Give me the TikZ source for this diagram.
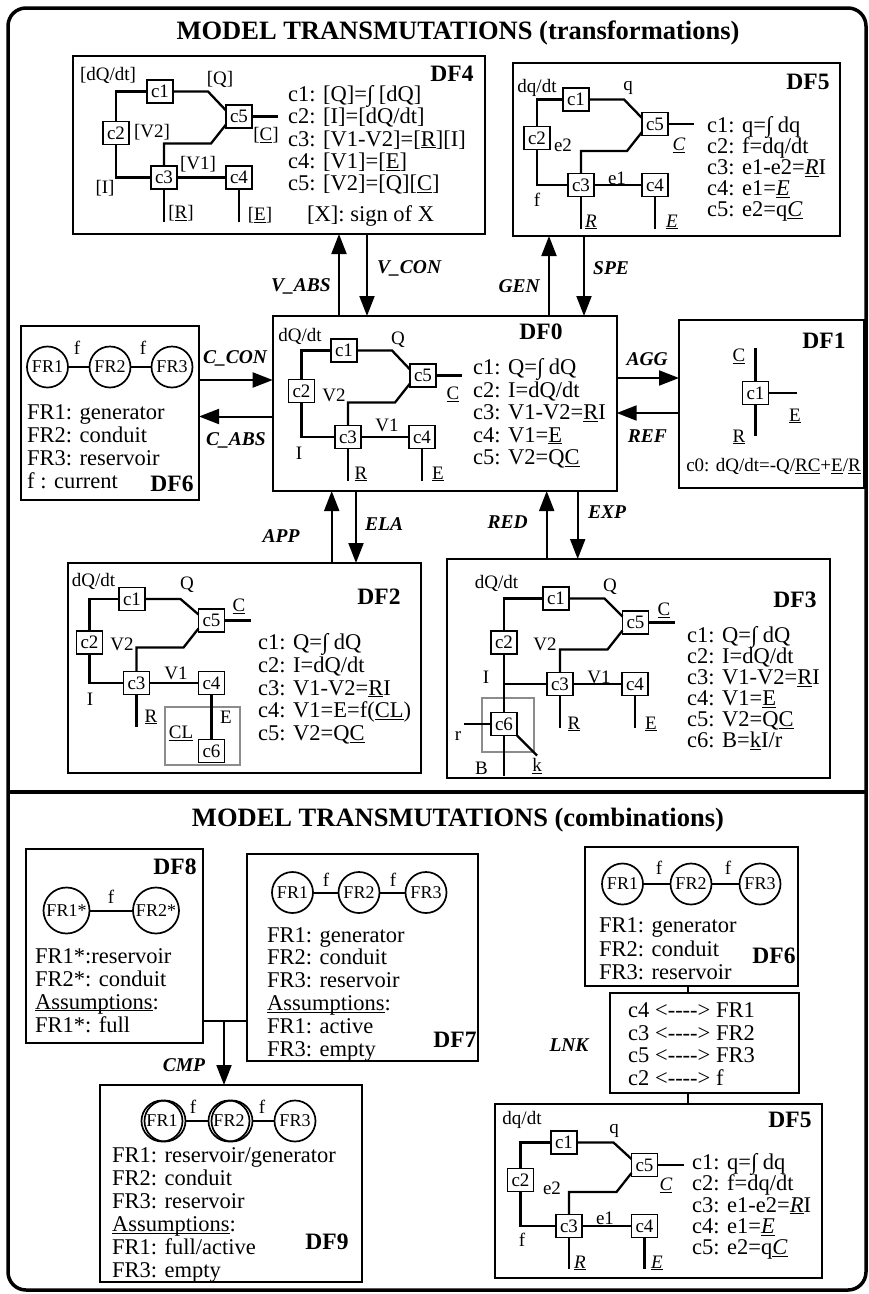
\documentclass[tikz,border=0pt]{standalone}
\usepackage{fontspec}
\setmainfont{Liberation Serif}
\usetikzlibrary{arrows.meta,calc}
\newcommand\eqf{\fontsize{22.5}{22.5}\selectfont}
\newcommand\smf{\fontsize{19}{19}\selectfont}
\newcommand\lblf{\fontsize{19}{19}\selectfont}
\newcommand\frf{\fontsize{18}{18}\selectfont}
\newcommand\dff{\bfseries\fontsize{23.5}{23.5}\selectfont}
\newcommand\arrf{\bfseries\itshape\fontsize{19.5}{19.5}\selectfont}
\newcommand\titf{\bfseries\fontsize{26.5}{26.5}\selectfont}
\newcommand\ul[1]{\underline{\smash{#1}}}
\newcounter{nn}
\newcommand\lbx[3]{\stepcounter{nn}\node[lbl] (l\arabic{nn}) at (#1,#2) {#3};}
\newcommand\eqs[4]{\foreach \t [count=\i from 0] in {#4}{\stepcounter{nn}\node[eq] (e\arabic{nn}) at (#1,{#2+\i*#3}) {\t};}}
\newcommand\dfbox[5]{\node[dfbox,minimum width={#4pt-#2pt},minimum height={#5pt-#3pt}] (#1) at ({(#2+#4)/2},{(#3+#5)/2}) {};}
\newcommand\grbox[5]{\node[grb,minimum width={#4pt-#2pt},minimum height={#5pt-#3pt}] (#1) at ({(#2+#4)/2},{(#3+#5)/2}) {};}
\newcommand\circuit[6]{%
 \node[cbox] (#1c1) at (#2) {c1};
 \node[cbox] (#1c2) at (#3) {c2};
 \node[cbox] (#1c5) at (#4) {c5};
 \node[cbox] (#1c3) at (#5) {c3};
 \node[cbox] (#1c4) at (#6) {c4};
 \coordinate (#1tx) at ($(#1c5)+(-31,0)$);
 \coordinate (#1lc) at ($(#1c5)+(-28,27)$);
 \draw[wire] (#1c2.north) |- (#1c1.west);
 \draw[wire] (#1c2.south) |- (#1c3.west);
 \draw[wire] (#1c1.east) -- (#1tx |- #1c1) -- ([yshift=6pt]#1c5.west);
 \draw[wire] (#1c3.north) |- (#1lc) -- ([yshift=-8pt]#1c5.west);
 \draw[wire] (#1c3) -- (#1c4);
 \draw[wire] (#1c5.east) -- ++(26,0);
}
\begin{document}
\begin{tikzpicture}[x=1pt,y=-1pt,
 dfbox/.style={draw,line width=1.9pt,inner sep=0pt,outer sep=0pt},
 grb/.style={draw=black!45,line width=1.7pt,inner sep=0pt,outer sep=0pt},
 cbox/.style={draw,line width=1.7pt,minimum width=26pt,minimum height=23pt,inner sep=0pt,outer sep=0pt,font=\smf},
 wire/.style={line width=2.3pt},
 link/.style={line width=2pt},
 arr/.style={line width=2pt,-{Triangle[length=20pt,width=15pt]}},
 frc/.style={draw,circle,line width=1.7pt,minimum size=41pt,inner sep=0pt,outer sep=0pt,font=\frf},
 lbl/.style={font=\lblf,inner sep=0pt},
 eq/.style={font=\eqf,inner sep=0pt,anchor=base west},
 dfl/.style={font=\dff,inner sep=0pt},
 albl/.style={font=\arrf,inner sep=0pt},
 ttl/.style={font=\titf,inner sep=0pt,anchor=base}]
\useasboundingbox (0,0) rectangle (869,1294);
\draw[line width=3.5pt,rounded corners=18pt] (8,8) rectangle (866,1290);
\draw[line width=4pt] (8,792) -- (866,792);
\node[ttl] (t1) at (458,39) {MODEL TRANSMUTATIONS (transformations)};
\node[ttl] (t2) at (458,826) {MODEL TRANSMUTATIONS (combinations)};

% ---------- DF4
\dfbox{df4}{73}{56}{485}{234}
\node[dfl] (df4l) at (452,74) {DF4};
\circuit{a}{160,91.5}{116,133}{239,116.5}{164,177.5}{239,177.5}
\draw[wire] (ac3.south) -- ++(0,33);
\draw[wire] (ac4.south) -- ++(0,33);
\lbx{108}{75}{[dQ/dt]}\lbx{220}{79}{[Q]}\lbx{266}{135}{[\underline{C}]}\lbx{152}{132}{[V2]}
\lbx{105}{188}{[I]}\lbx{198}{164}{[V1]}\lbx{181}{213}{[\underline{R}]}\lbx{260}{215}{[\underline{E}]}
\eqs{288}{101.5}{22.3}{c1: [Q]=∫ [dQ],c2: [I]=[dQ/dt],c3: [V1-V2]=[\underline{R}][I],c4: [V1]=[\underline{E}],c5: [V2]=[Q][\underline{C}]}
\node[eq] (sgn) at (307,221) {[X]: sign of X};

% ---------- DF5 top
\dfbox{tf}{513}{63}{840}{236}
\node[dfl] (tfl) at (808,81.5) {DF5};
\circuit{b}{576,99.5}{537,138}{655,124}{581,185}{655,185}
\draw[wire] (bc3.south) -- ++(0,32);
\draw[wire] (bc4.south) -- ++(0,32);
\lbx{537}{88}{dq/dt}\lbx{628}{88}{q}\lbx{679}{145}{\underline{\textit{C}}}\lbx{563}{145}{e2}
\lbx{537}{200}{f}\lbx{617}{178}{e1}\lbx{591}{222}{\underline{\textit{R}}}\lbx{672}{222}{\underline{\textit{E}}}
\eqs{707}{132.5}{21}{c1: q=∫ dq,c2: f=dq/dt,c3: e1-e2=\underline{\textit{R}}I,c4: e1=\underline{\textit{E}},c5: e2=q\underline{\textit{C}}}

% ---------- DF0
\dfbox{df0}{272.7}{316}{616.7}{491}
\node[dfl] (df0l) at (541,332) {DF0};
\circuit{z}{344,350.5}{301.5,391}{423,375.5}{348,437}{422,437}
\draw[wire] (zc3.south) -- ++(0,32);
\draw[wire] (zc4.south) -- ++(0,32);
\lbx{300}{336}{dQ/dt}\lbx{398}{340}{Q}\lbx{453}{394}{\underline{C}}\lbx{334}{395}{V2}
\lbx{299}{453}{I}\lbx{387}{425}{V1}\lbx{361}{474}{\underline{R}}\lbx{438}{474}{\underline{E}}
\eqs{473}{374.5}{22.5}{c1: Q=∫ dQ,c2: I=dQ/dt,c3: V1-V2=\underline{R}I,c4: V1=\underline{E},c5: V2=Q\underline{C}}

% ---------- DF1
\dfbox{df1}{679}{320}{864}{488}
\node[dfl] (df1l) at (824,341) {DF1};
\node[cbox] (dc1) at (755.5,393) {c1};
\coordinate (dtop) at (755.5,348);
\coordinate (dbot) at (755.5,436);
\coordinate (drt) at (797,393);
\draw[wire] (dtop) -- (dc1.north);
\draw[wire] (dc1.south) -- (dbot);
\draw[wire] (dc1.east) -- (drt);
\lbx{739}{356}{\underline{C}}\lbx{795}{416}{\underline{E}}\lbx{739}{437}{\underline{R}}
\node[font=\smf,inner sep=0pt,anchor=base] (c0) at (773.5,471.5) {c0: dQ/dt=-Q/\underline{RC}+\underline{E}/\underline{R}};

% ---------- DF6 left
\dfbox{df6}{20.7}{326}{199}{500}
\node[frc] (a1) at (47.5,367) {FR1};
\node[frc] (a2) at (110,367) {FR2};
\node[frc] (a3) at (172,367) {FR3};
\draw[link] (a1) -- (a2);
\draw[link] (a2) -- (a3);
\lbx{77}{348}{f}\lbx{143}{348}{f}
\eqs{27}{419.5}{23}{FR1: generator,FR2: conduit,FR3: reservoir,f : current}
\node[dfl] (df6l) at (172,484) {DF6};

% ---------- DF2
\dfbox{df2}{68}{563}{421}{773}
\node[dfl] (df2l) at (379,597) {DF2};
\circuit{w}{132,599}{89.5,642.5}{211.5,620.5}{136.5,683}{211.5,683}
\grbox{wg}{165}{707}{240}{765}
\node[cbox] (wc6) at (211.5,751) {c6};
\draw[wire] (wc3.south) -- ++(0,32);
\draw[wire] (wc4.south) -- (wc6.north);
\lbx{93.5}{581}{dQ/dt}\lbx{187}{585}{Q}\lbx{239}{606}{\underline{C}}\lbx{122}{644}{V2}
\lbx{90}{699}{I}\lbx{176}{673}{V1}\lbx{151}{717}{\underline{R}}\lbx{226}{717}{E}
\lbx{181}{733}{\underline{CL}}
\eqs{258}{649.5}{22.8}{c1: Q=∫ dQ,c2: I=dQ/dt,c3: V1-V2=\underline{R}I,c4: V1=E=f(\underline{CL}),c5: V2=Q\underline{C}}

% ---------- DF3
\dfbox{df3}{447}{559}{830}{778}
\node[dfl] (df3l) at (795,600) {DF3};
\circuit{h}{556,598.5}{504,642.5}{635.5,622.5}{560,684}{635,684}
\grbox{hg}{482}{698}{534}{752}
\node[cbox] (hc6) at (504,724) {c6};
\draw[wire] (hc2.south) -- (hc6.north);
\draw[wire] (hc3.south) -- ++(0,32);
\draw[wire] (hc4.south) -- ++(0,32);
\coordinate (hrl) at (464,724);
\draw[wire] (hrl) -- (hc6.west);
\draw[wire] (hc6.south) -- ++(0,40);
\draw[wire] (hc6.south east) -- ++(20,20);
\lbx{496.5}{583}{dQ/dt}\lbx{610}{587}{Q}\lbx{664}{610}{\underline{C}}\lbx{545}{644}{V2}
\lbx{486}{677}{I}\lbx{599}{677}{V1}\lbx{574}{724}{\underline{R}}\lbx{651}{724}{\underline{E}}
\lbx{458}{736}{r}\lbx{481.5}{768.5}{B}\lbx{537}{766}{\underline{k}}
\eqs{687}{642.5}{21}{c1: Q=∫ dQ,c2: I=dQ/dt,c3: V1-V2=\underline{R}I,c4: V1=\underline{E},c5: V2=Q\underline{C},c6: B=\underline{k}I/r}

% ---------- arrows (upper)
\coordinate (xva) at (339,0);
\coordinate (xvc) at (367,0);
\coordinate (xgen) at (549,0);
\coordinate (xspe) at (584,0);
\coordinate (ycc) at (0,380);
\coordinate (yca) at (0,416.5);
\coordinate (yagg) at (0,378);
\coordinate (yref) at (0,413);
\coordinate (xapp) at (331.7,0);
\coordinate (xela) at (356,0);
\coordinate (xred) at (546.7,0);
\coordinate (xexp) at (577.7,0);
\draw[arr] (df0.north -| xva) -- (df4.south -| xva);
\draw[arr] (df4.south -| xvc) -- (df0.north -| xvc);
\draw[arr] (df0.north -| xgen) -- (tf.south -| xgen);
\draw[arr] (tf.south -| xspe) -- (df0.north -| xspe);
\draw[arr] (df6.east |- ycc) -- (df0.west |- ycc);
\draw[arr] (df0.west |- yca) -- (df6.east |- yca);
\draw[arr] (df0.east |- yagg) -- (df1.west |- yagg);
\draw[arr] (df1.west |- yref) -- (df0.east |- yref);
\draw[arr] (df2.north -| xapp) -- (df0.south -| xapp);
\draw[arr] (df0.south -| xela) -- (df2.north -| xela);
\draw[arr] (df3.north -| xred) -- (df0.south -| xred);
\draw[arr] (df0.south -| xexp) -- (df3.north -| xexp);
\node[albl,anchor=east] (lva) at (331,286) {V\_ABS};
\node[albl,anchor=west] (lvc) at (377,268) {V\_CON};
\node[albl,anchor=east] (lgen) at (540,286) {GEN};
\node[albl,anchor=west] (lspe) at (593,268) {SPE};
\node[albl] (lcc) at (235,358) {C\_CON};
\node[albl] (lca) at (236,440) {C\_ABS};
\node[albl,anchor=east] (lagg) at (668,359) {AGG};
\node[albl,anchor=east] (lref) at (667,436) {REF};
\node[albl] (lapp) at (281,536) {APP};
\node[albl,anchor=west] (lela) at (365,524) {ELA};
\node[albl,anchor=east] (lred) at (528,522) {RED};
\node[albl,anchor=west] (lexp) at (588,512) {EXP};

% ---------- DF8
\dfbox{df8}{26}{849}{203}{1043}
\node[dfl] (df8l) at (175,867) {DF8};
\node[frc,minimum size=46pt] (p1) at (66.5,910.5) {FR1*};
\node[frc,minimum size=46pt] (p2) at (156,910.5) {FR2*};
\draw[link] (p1) -- (p2);
\lbx{111}{897}{f}
\eqs{35}{963}{23}{FR1*:reservoir,FR2*: conduit,\ul{Assumptions}:,FR1*: full}

% ---------- DF7
\dfbox{df7}{247}{854}{478}{1061}
\node[frc] (q1) at (292.5,892.5) {FR1};
\node[frc] (q2) at (359,892.5) {FR2};
\node[frc] (q3) at (426,892.5) {FR3};
\draw[link] (q1) -- (q2);
\draw[link] (q2) -- (q3);
\lbx{326}{880}{f}\lbx{393}{880}{f}
\eqs{267}{942}{22.8}{FR1: generator,FR2: conduit,FR3: reservoir,\ul{Assumptions}:,FR1: active,FR3: empty}
\node[dfl] (df7l) at (455,1040) {DF7};

% ---------- DF9
\dfbox{df9}{100}{1085}{362}{1282}
\node[frc] (g1b) at (165,1121) {};
\node[frc] (g1) at (162,1121) {FR1};
\node[frc] (g2b) at (232,1121) {};
\node[frc] (g2) at (229,1121) {FR2};
\node[frc] (g3) at (295,1121) {FR3};
\draw[link] (g1b) -- (g2);
\draw[link] (g2b) -- (g3);
\lbx{193}{1107}{f}\lbx{262}{1107}{f}
\eqs{112}{1162.5}{23}{FR1: reservoir/generator,FR2: conduit,FR3: reservoir,\ul{Assumptions}:,FR1: full/active,FR3: empty}
\node[dfl] (df9l) at (327,1242) {DF9};

% ---------- CMP
\coordinate (cmpj) at (224,1021);
\draw[link] (df8.east |- cmpj) -- (df7.west |- cmpj);
\draw[arr] (cmpj) -- (df9.north -| cmpj);
\node[albl] (lcmp) at (184,1065) {CMP};

% ---------- DF6 bottom
\dfbox{df6b}{585}{847}{798}{986}
\node[frc] (r1) at (622.5,884) {FR1};
\node[frc] (r2) at (691,884) {FR2};
\node[frc] (r3) at (760,884) {FR3};
\draw[link] (r1) -- (r2);
\draw[link] (r2) -- (r3);
\lbx{659}{868}{f}\lbx{728}{868}{f}
\eqs{599}{932.5}{23.5}{FR1: generator,FR2: conduit,FR3: reservoir}
\node[dfl] (df6bl) at (774,956) {DF6};

% ---------- LNK
\dfbox{lnk}{610}{993}{799}{1093}
\eqs{628}{1017.5}{22.5}{c4 <{-}{-}{-}{-}> FR1,c3 <{-}{-}{-}{-}> FR2,c5 <{-}{-}{-}{-}> FR3,c2 <{-}{-}{-}{-}> f}
\node[albl] (llnk) at (569,1045) {LNK};

% ---------- DF5 bottom
\dfbox{bf}{495}{1104}{822}{1278}
\node[dfl] (bfl) at (790,1120) {DF5};
\circuit{c}{564,1142.5}{520.5,1180}{644.5,1165}{569,1226}{644.5,1226}
\draw[wire] (cc3.south) -- ++(0,31);
\draw[wire] (cc4.south) -- ++(0,31);
\lbx{522}{1120}{dq/dt}\lbx{614}{1131}{q}\lbx{666}{1185}{\underline{\textit{C}}}\lbx{552}{1188}{e2}
\lbx{522}{1240}{f}\lbx{605}{1218}{e1}\lbx{580}{1263}{\underline{\textit{R}}}\lbx{657}{1263}{\underline{\textit{E}}}
\eqs{692}{1169.5}{21.3}{c1: q=∫ dq,c2: f=dq/dt,c3: e1-e2=\underline{\textit{R}}I,c4: e1=\underline{\textit{E}},c5: e2=q\underline{\textit{C}}}

\coordinate (xl) at (688,0);
\draw[link] (df6b.south -| xl) -- (lnk.north -| xl);
\draw[link] (lnk.south -| xl) -- (bf.north -| xl);
\end{tikzpicture}
\end{document}
